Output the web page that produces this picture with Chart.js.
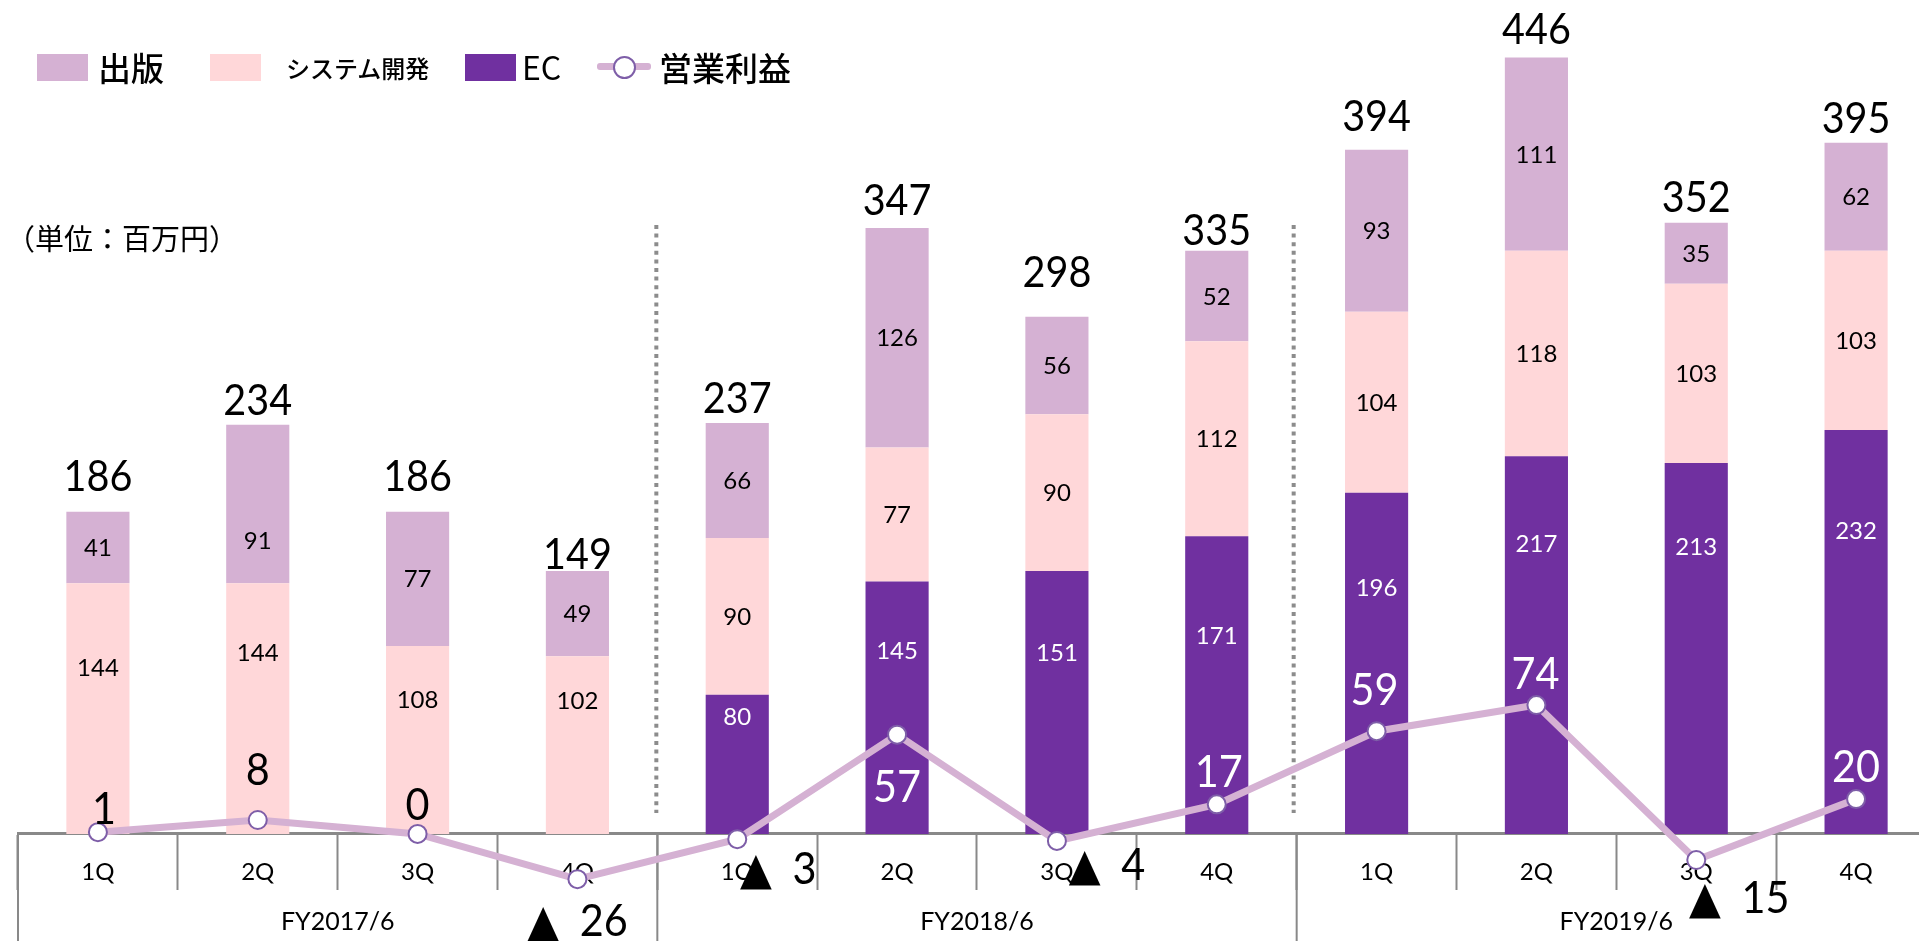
<!DOCTYPE html>
<html><head><meta charset="utf-8">
<script src="https://cdn.jsdelivr.net/npm/chart.js@4/dist/chart.umd.min.js"></script>
<style>
html,body{margin:0;padding:0;background:#fff;overflow:hidden;width:1919px;height:941px;}
#wrap{position:relative;width:1919px;height:941px;overflow:hidden;}
#c{position:absolute;left:0;top:0;}
.lg{position:absolute;font-family:'Noto Sans CJK JP';color:#000;line-height:1;white-space:nowrap;transform:translateY(-50%);}
.sw{position:absolute;width:51px;height:27px;}
</style></head><body>
<div id="wrap">
<canvas id="c" width="1936" height="941"></canvas>
<div class="sw" style="left:37px;top:54px;background:#D5B1D3"></div>
<div class="lg" style="left:98px;top:67px;font-size:33px;font-weight:500">出版</div>
<div class="sw" style="left:210px;top:54px;background:#FFD7D9"></div>
<div class="lg" style="left:286px;top:68px;font-size:24px;font-weight:500">システム開発</div>
<div class="sw" style="left:465px;top:54px;background:#7030A0"></div>
<div class="lg" style="left:522px;top:66px;font-size:32px;font-weight:400">EC</div>
<div style="position:absolute;left:597px;top:63px;width:54px;height:7px;background:#D5B1D3;border-radius:3px"></div>
<div style="position:absolute;left:613px;top:56px;width:19px;height:19px;border-radius:50%;background:#fff;border:2px solid #7E5EA8"></div>
<div class="lg" style="left:659px;top:67px;font-size:33px;font-weight:500">営業利益</div>
<div class="lg" style="left:6px;top:237px;font-size:29px;">（単位：百万円）</div>
</div>
<script>
const categories = ['1Q','2Q','3Q','4Q','1Q','2Q','3Q','4Q','1Q','2Q','3Q','4Q'];
const fiscalYears = ['FY2017/6','FY2018/6','FY2019/6'];
const publishing = [41,91,77,49,66,126,56,52,93,111,35,62];
const systemDev = [144,144,108,102,90,77,90,112,104,118,103,103];
const ec = [0,0,0,0,80,145,151,171,196,217,213,232];
const totals = [186,234,186,149,237,347,298,335,394,446,352,395];
const operatingProfit = [1,8,0,-26,-3,57,-4,17,59,74,-15,20];

// label placement styles (pixel nudges, not data)
const pubLabelDy = [0,36,0,0,0,0,0,0,0,0,0,0];
const sysLabelDy = [-41,-56,-41,-45,0,0,0,0,0,0,0,0];
const ecLabelDy = [0,0,0,0,-48,-57,-50,-50,-76,-102,-102,-102];
const totalDy = [-36,-25,-36,-17,-25,-28,-45,-21,-34,-29,-26,-25];
const profitLabelOffset = [[6,-24],[0,-51],[0,-30],[0,41],[41,29],[0,51],[50,23],[2,-33],[-2,-42],[-1,-32],[43,37],[0,-33]];
const profitLabelColor = ['#000','#000','#000','#000','#000','#fff','#000','#fff','#fff','#fff','#000','#fff'];

function txt(ctx, s, x, cy, size, color, sx, family) {
  ctx.save();
  ctx.translate(x, cy + 0.358 * size);
  ctx.scale(sx, 1);
  ctx.font = size + 'px ' + (family || "Lato, 'DejaVu Sans'");
  ctx.fillStyle = color;
  ctx.textAlign = 'center';
  ctx.textBaseline = 'alphabetic';
  ctx.fillText(s, 0, 0);
  ctx.restore();
}

const decor = {
  id: 'decor',
  beforeDatasetsDraw(chart) {
    const ctx = chart.ctx, xs = chart.scales.x, ys = chart.scales.y;
    const zero = ys.getPixelForValue(0);
    const half = (xs.getPixelForValue(1) - xs.getPixelForValue(0)) / 2;
    const H = chart.height;
    ctx.save();
    ctx.strokeStyle = '#898989';
    ctx.lineWidth = 2;
    const lines = [xs.getPixelForValue(0) - half, xs.getPixelForValue(3) + half, xs.getPixelForValue(7) + half];
    lines.forEach(x => { ctx.beginPath(); ctx.moveTo(x, zero); ctx.lineTo(x, H); ctx.stroke(); });
    ctx.lineWidth = 4;
    ctx.strokeStyle = '#8c8c8c';
    ctx.setLineDash([4, 4.6]);
    [lines[1] - 1, lines[2] - 3].forEach(x => { ctx.beginPath(); ctx.moveTo(x, 225); ctx.lineTo(x, 813); ctx.stroke(); });
    ctx.setLineDash([]);
    fiscalYears.forEach((fy, g) => {
      const cx = (xs.getPixelForValue(g * 4 + 1) + xs.getPixelForValue(g * 4 + 2)) / 2;
      txt(ctx, fy, cx, 921, 25, '#000', 1);
    });
    ctx.restore();
  },
  afterDatasetsDraw(chart) {
    const ctx = chart.ctx;
    const mEc = chart.getDatasetMeta(0), mSys = chart.getDatasetMeta(1), mPub = chart.getDatasetMeta(2), mLine = chart.getDatasetMeta(3);
    const segs = [[mEc, ec, ecLabelDy, '#fff'], [mSys, systemDev, sysLabelDy, '#000'], [mPub, publishing, pubLabelDy, '#000']];
    segs.forEach(([m, vals, dy, col]) => {
      m.data.forEach((el, i) => {
        if (!vals[i]) return;
        const cy = (el.y + el.base) / 2 + dy[i];
        txt(ctx, String(vals[i]), el.x, cy, 24, col, 1);
      });
    });
    mPub.data.forEach((el, i) => {
      txt(ctx, String(totals[i]), el.x, el.y + totalDy[i], 43, '#000', 0.92);
    });
    mLine.data.forEach((el, i) => {
      const v = operatingProfit[i];
      const s = v < 0 ? '▲\u2002' + Math.abs(v) : String(v);
      const [dx, dy] = profitLabelOffset[i];
      txt(ctx, s, el.x + dx, el.y + dy, 45, profitLabelColor[i], 0.92);
    });
  }
};

new Chart(document.getElementById('c'), {
  data: {
    labels: categories,
    datasets: [
      { type: 'bar', label: 'EC', data: ec, backgroundColor: '#7030A0', stack: 'bars', order: 1, categoryPercentage: 1, barPercentage: 0.395 },
      { type: 'bar', label: 'システム開発', data: systemDev, backgroundColor: '#FFD7D9', stack: 'bars', order: 1, categoryPercentage: 1, barPercentage: 0.395 },
      { type: 'bar', label: '出版', data: publishing, backgroundColor: '#D5B1D3', stack: 'bars', order: 1, categoryPercentage: 1, barPercentage: 0.395 },
      { type: 'line', label: '営業利益', data: operatingProfit, stack: 'line', order: 0,
        borderColor: '#D5B1D3', borderWidth: 7, tension: 0,
        pointRadius: 9, pointBorderWidth: 2, pointBorderColor: '#7E5EA8', pointBackgroundColor: '#fff' }
    ]
  },
  options: {
    responsive: false,
    animation: false,
    events: [],
    layout: { autoPadding: false, padding: { left: 18, right: 0, top: 0, bottom: 0 } },
    plugins: { legend: { display: false }, tooltip: { enabled: false } },
    scales: {
      y: { display: false, stacked: true, min: -61.5, max: 479 },
      x: {
        stacked: true, offset: true, position: { y: 0 },
        grid: { display: true, offset: true, drawOnChartArea: false, drawTicks: true, tickLength: 55, tickColor: '#898989', tickWidth: 2, color: '#898989' },
        border: { display: true, color: '#898989', width: 3 },
        ticks: { padding: -31, color: '#000', font: { family: 'Lato', size: 24 }, maxRotation: 0, autoSkip: false }
      }
    }
  },
  plugins: [decor]
});
</script>
</body></html>
